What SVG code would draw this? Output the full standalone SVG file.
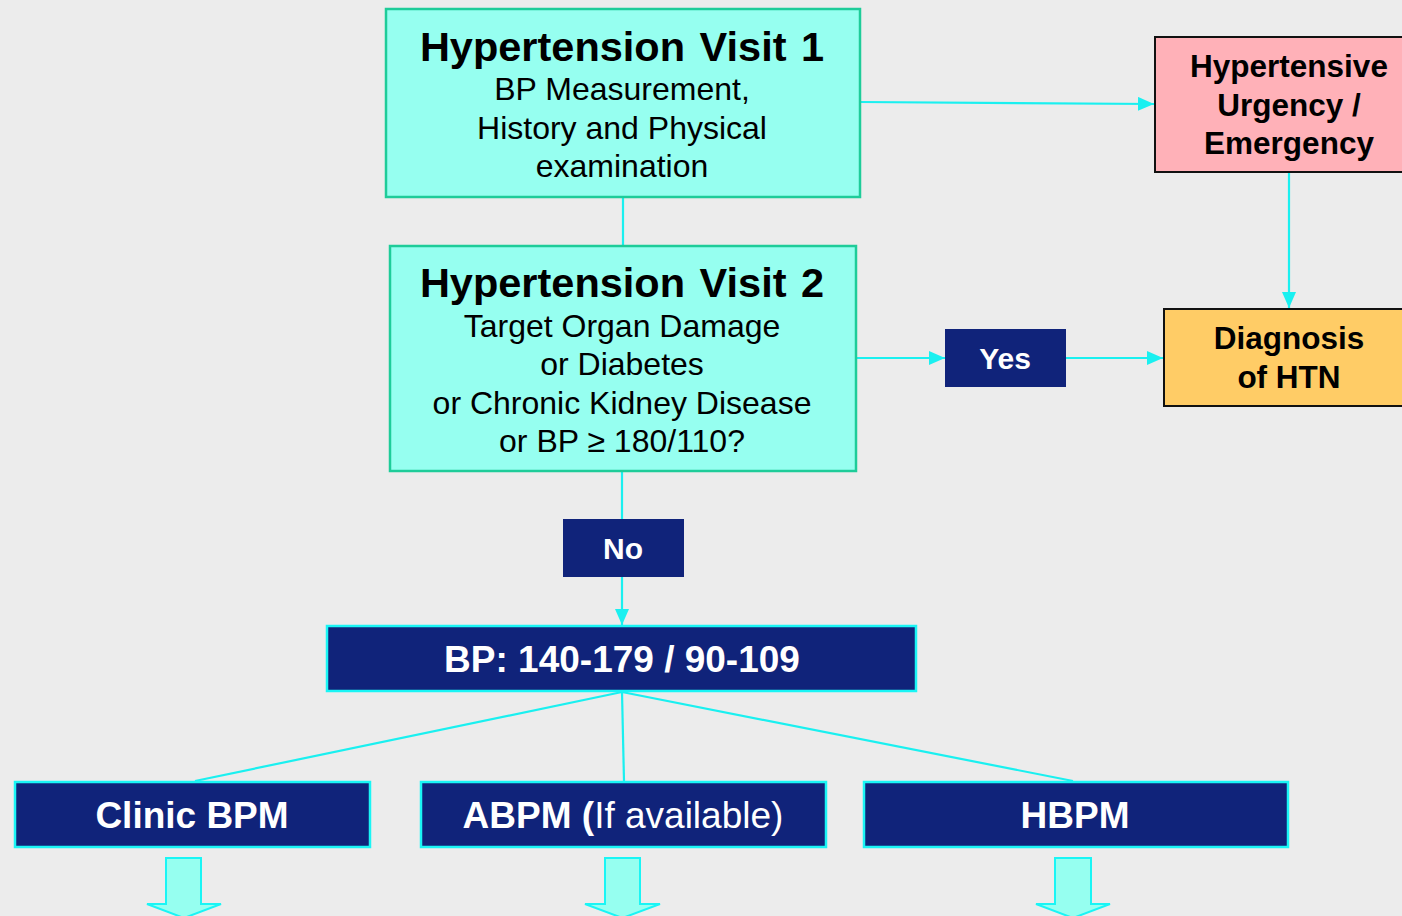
<svg xmlns="http://www.w3.org/2000/svg" width="1402" height="916" viewBox="0 0 1402 916">
<defs>
<style>
.visit{fill:#96FFF0;stroke:#1ECC99;stroke-width:2.5}
.navy{fill:#10237A}
.navyc{fill:#10237A;stroke:#1AF5F5;stroke-width:2.5}
.t{font-family:"Liberation Sans",Arial,sans-serif;text-anchor:middle}
.title{font-size:41.5px;font-weight:bold;fill:#000;word-spacing:3px}
.body{font-size:32px;fill:#000}
.bb{font-size:31.5px;font-weight:bold;fill:#000}
.wl{font-size:37px;font-weight:bold;fill:#fff}
.ws{font-size:30px;font-weight:bold;fill:#fff}
.conn{stroke:#1AF0F0;stroke-width:2.2;fill:none}
.blk{fill:#96FFF0;stroke:#1AF5F5;stroke-width:2}
</style>
<marker id="ah" markerWidth="16" markerHeight="14" refX="16" refY="7" orient="auto" markerUnits="userSpaceOnUse">
<path d="M0,0 L16,7 L0,14 Z" fill="#1AF0F0"/>
</marker>
</defs>
<rect x="0" y="0" width="1402" height="916" fill="#ECECEC"/>

<g id="connectors">
<line class="conn" x1="861" y1="102" x2="1154" y2="104" marker-end="url(#ah)"/>
<line class="conn" x1="623" y1="198" x2="623" y2="245"/>
<line class="conn" x1="1289" y1="173" x2="1289" y2="308" marker-end="url(#ah)"/>
<line class="conn" x1="857" y1="358" x2="945" y2="358" marker-end="url(#ah)"/>
<line class="conn" x1="1066" y1="358" x2="1163" y2="358" marker-end="url(#ah)"/>
<line class="conn" x1="622" y1="472" x2="622" y2="519"/>
<line class="conn" x1="622" y1="577" x2="622" y2="625" marker-end="url(#ah)"/>
<line class="conn" x1="622" y1="692" x2="195" y2="781"/>
<line class="conn" x1="622" y1="692" x2="624" y2="781"/>
<line class="conn" x1="622" y1="692" x2="1073" y2="781"/>
</g>

<g id="visit1">
<rect class="visit" x="386" y="9" width="474" height="188"/>
<text class="t title" x="622" y="61">Hypertension Visit 1</text>
<text class="t body" x="622" y="100">BP Measurement,</text>
<text class="t body" x="622" y="139">History and Physical</text>
<text class="t body" x="622" y="177">examination</text>
</g>

<g id="visit2">
<rect class="visit" x="390" y="246" width="466" height="225"/>
<text class="t title" x="622" y="297">Hypertension Visit 2</text>
<text class="t body" x="622" y="337">Target Organ Damage</text>
<text class="t body" x="622" y="375">or Diabetes</text>
<text class="t body" x="622" y="414">or Chronic Kidney Disease</text>
<text class="t body" x="622" y="452">or BP ≥ 180/110?</text>
</g>

<g id="urgency">
<rect x="1155" y="37" width="260" height="135" fill="#FFB1B8" stroke="#111" stroke-width="2"/>
<text class="t bb" x="1289" y="77">Hypertensive</text>
<text class="t bb" x="1289" y="115.5">Urgency /</text>
<text class="t bb" x="1289" y="154">Emergency</text>
</g>

<g id="diagnosis">
<rect x="1164" y="309" width="250" height="97" fill="#FFCC66" stroke="#111" stroke-width="2"/>
<text class="t bb" x="1289" y="349">Diagnosis</text>
<text class="t bb" x="1289" y="388">of HTN</text>
</g>

<g id="yes">
<rect class="navy" x="945" y="329" width="121" height="58"/>
<text class="t ws" x="1005" y="369">Yes</text>
</g>

<g id="no">
<rect class="navy" x="563" y="519" width="121" height="58"/>
<text class="t ws" x="623" y="559">No</text>
</g>

<g id="bp">
<rect class="navyc" x="327" y="626" width="589" height="65"/>
<text class="t wl" x="622" y="672">BP: 140-179 / 90-109</text>
</g>

<g id="clinic">
<rect class="navyc" x="15" y="782" width="355" height="65"/>
<text class="t wl" x="192" y="828">Clinic BPM</text>
<path class="blk" d="M166,858 H201 V904 H221 L184,918 L147,904 H166 Z"/>
</g>

<g id="abpm">
<rect class="navyc" x="421" y="782" width="405" height="65"/>
<text class="t wl" x="623" y="828">ABPM (<tspan font-weight="normal">If available)</tspan></text>
<path class="blk" d="M605,858 H640 V904 H660 L622.5,918 L585,904 H605 Z"/>
</g>

<g id="hbpm">
<rect class="navyc" x="864" y="782" width="424" height="65"/>
<text class="t wl" x="1075" y="828">HBPM</text>
<path class="blk" d="M1055,858 H1091 V904 H1110 L1073,918 L1036,904 H1055 Z"/>
</g>
</svg>
